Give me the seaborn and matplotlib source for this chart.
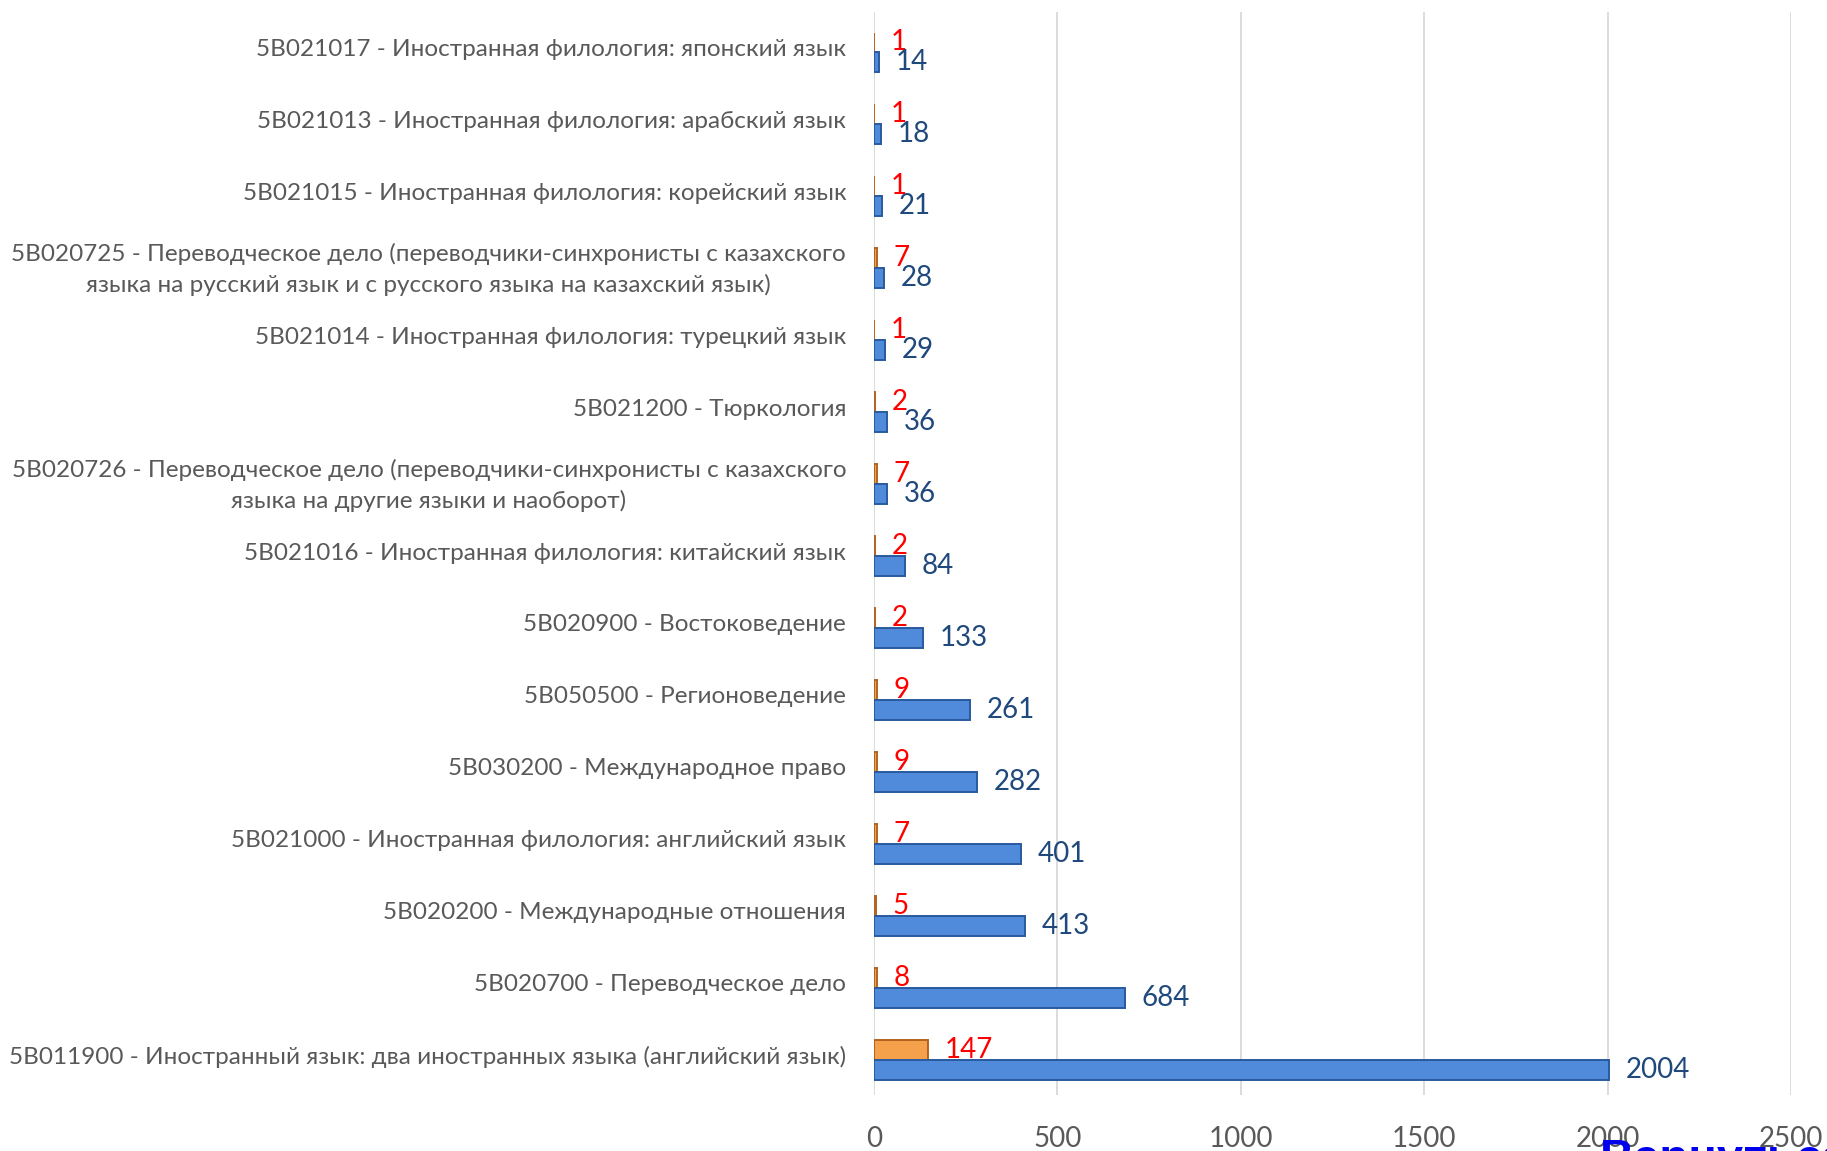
import matplotlib
matplotlib.use("Agg")
import matplotlib.pyplot as plt
import matplotlib.transforms as mtransforms
import seaborn as sns
import pandas as pd

categories = [
    "5B021017 - Иностранная филология: японский язык",
    "5B021013 - Иностранная филология: арабский язык",
    "5B021015 - Иностранная филология: корейский язык",
    "5B020725 - Переводческое дело (переводчики-синхронисты с казахского\nязыка на русский язык и с русского языка на казахский язык)",
    "5B021014 - Иностранная филология: турецкий язык",
    "5B021200 - Тюркология",
    "5B020726 - Переводческое дело (переводчики-синхронисты с казахского\nязыка на другие языки и наоборот)",
    "5B021016 - Иностранная филология: китайский язык",
    "5B020900 - Востоковедение",
    "5B050500 - Регионоведение",
    "5B030200 - Международное право",
    "5B021000 - Иностранная филология: английский язык",
    "5B020200 - Международные отношения",
    "5B020700 - Переводческое дело",
    "5B011900 - Иностранный язык: два иностранных языка (английский язык)",
]
series_small = [1, 1, 1, 7, 1, 2, 7, 2, 2, 9, 9, 7, 5, 8, 147]
series_large = [14, 18, 21, 28, 29, 36, 36, 84, 133, 261, 282, 401, 413, 684, 2004]
series_names = ["Серия 2", "Серия 1"]
x_ticks = [0, 500, 1000, 1500, 2000, 2500]

df = pd.DataFrame({
    "cat": categories * 2,
    "val": series_small + series_large,
    "series": [series_names[0]] * len(categories) + [series_names[1]] * len(categories),
})

sns.set_theme(style="white")
plt.rcParams["font.family"] = ["Lato", "DejaVu Sans"]

fig = plt.figure(figsize=(18.27, 11.51), dpi=100)
ax = fig.add_axes([874 / 1827, 1 - 1095 / 1151, (1791 - 874) / 1827, (1095 - 12) / 1151])

sns.barplot(data=df, y="cat", x="val", hue="series", hue_order=series_names,
            order=categories, orient="h", width=0.55, gap=0, saturation=1,
            palette=["#F5A04A", "#4F8ADB"], ax=ax, legend=False, zorder=3)

edge_cols = ["#B4631E", "#2A5A9E"]
label_cols = ["#FF0000", "#1F497D"]
for i, cont in enumerate(ax.containers):
    for p in cont.patches:
        p.set_edgecolor(edge_cols[i])
        p.set_linewidth(1.4)
    ax.bar_label(cont, padding=12, color=label_cols[i], fontsize=20)

ax.set_xlim(0, 2500)
ax.set_ylim(14.49, -0.56)
ax.set_xticks(x_ticks)
ax.set_xticklabels([str(t) for t in x_ticks])
ax.grid(axis="x", color="#D9D9D9", linewidth=1.3, zorder=0)
ax.grid(axis="y", visible=False)
for s in ax.spines.values():
    s.set_visible(False)
ax.set_xlabel("")
ax.set_ylabel("")
ax.tick_params(axis="x", labelsize=20, labelcolor="#595959", pad=22, length=0)
ax.tick_params(axis="y", labelsize=17.5, labelcolor="#595959", pad=20, length=0)
shift = mtransforms.ScaledTranslation(0, 5 / 100, fig.dpi_scale_trans)
for t in ax.get_yticklabels():
    t.set_horizontalalignment("right")
    t.set_multialignment("center")
    t.set_linespacing(1.5)
    t.set_transform(t.get_transform() + shift)

fig.text(1600 / 1827, 1 - 1138 / 1151, "Вернуться", va="top", ha="left",
         fontsize=34, fontweight="bold", color="#0000EE", family=["Liberation Sans", "DejaVu Sans"])

fig.savefig("out.png", dpi=100)
